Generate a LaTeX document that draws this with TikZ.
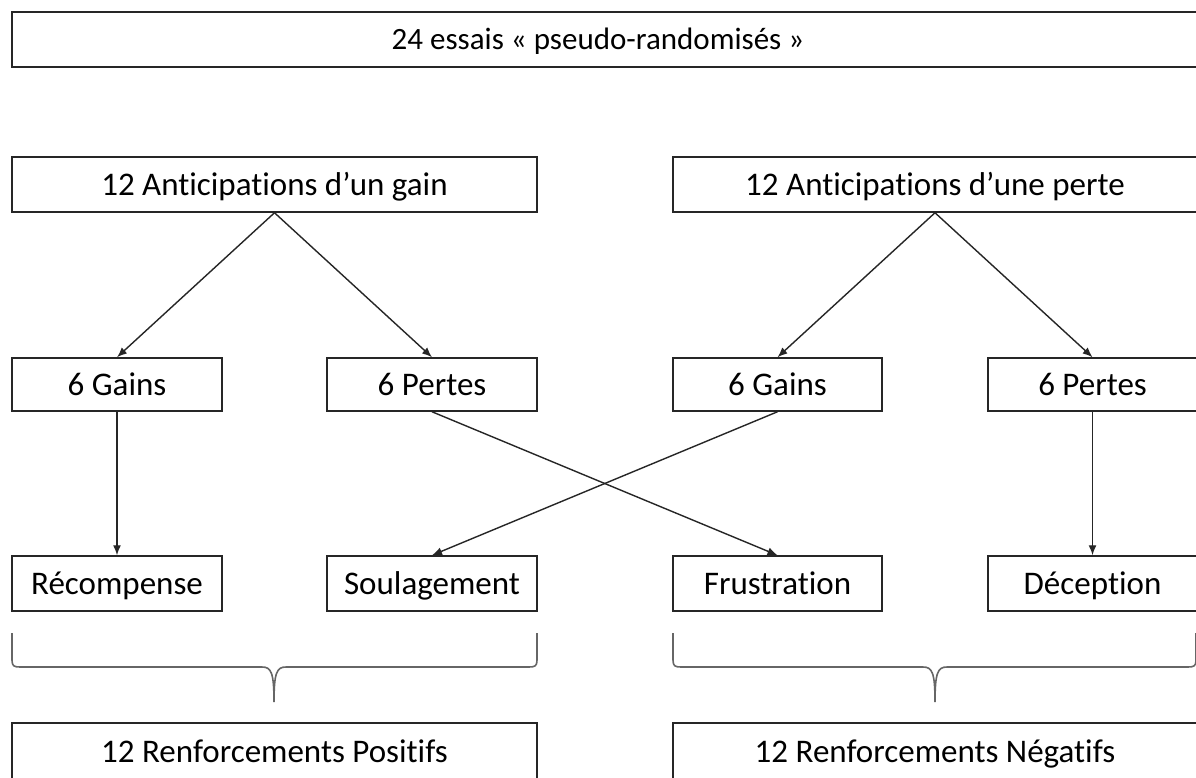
\documentclass[tikz,border=0pt]{standalone}
\usepackage{fontspec}
\setmainfont{Carlito}[Ligatures=NoCommon]
\usetikzlibrary{arrows.meta}
\begin{document}
\begin{tikzpicture}[x=1pt,y=-1pt,
  box/.style={draw=black!85, line width=1.5pt, inner sep=0pt, font=\fontsize{33}{38}\selectfont, text=black, text height=21pt, text depth=0pt},
  arr/.style={draw=black!85, line width=1.4pt, -{Latex[length=10pt,width=8pt]}},
  brace/.style={draw=black!60, line width=1.6pt}]
\clip (0,0) rectangle (1196,777);
\fill[white] (0,0) rectangle (1196,777);
% top
\node[box, minimum width=1185, minimum height=55] (top) at (604.5,39.5) {};
\node[font=\fontsize{31}{36}\selectfont, inner sep=0pt, text height=20pt, text depth=0pt] (toptext) at (598,39.5) {24 essais « pseudo-randomisés »};
% row 1
\node[box, minimum width=525, minimum height=55] (antg) at (274.5,184.5) {12 Anticipations d’un gain};
\node[box, minimum width=524, minimum height=55] (antp) at (935,184.5) {12 Anticipations d’une perte};
% row 2
\node[box, minimum width=210, minimum height=53] (g1) at (117,384.5) {6 Gains};
\node[box, minimum width=210, minimum height=53] (p1) at (432,384.5) {6 Pertes};
\node[box, minimum width=209, minimum height=53] (g2) at (777.5,384.5) {6 Gains};
\node[box, minimum width=209, minimum height=53] (p2) at (1092.5,384.5) {6 Pertes};
% row 3
\node[box, minimum width=210, minimum height=55] (rec) at (117,583.5) {Récompense};
\node[box, minimum width=210, minimum height=55] (sou) at (432,583.5) {Soulagement};
\node[box, minimum width=209, minimum height=55] (fru) at (777.5,583.5) {Frustration};
\node[box, minimum width=209, minimum height=55] (dec) at (1092.5,583.5) {Déception};
% bottom
\node[box, minimum width=525, minimum height=58] (rp) at (274.5,752) {12 Renforcements Positifs};
\node[box, minimum width=524, minimum height=58] (rn) at (935,752) {12 Renforcements Négatifs};
% arrows
\draw[arr] (antg.south) -- (g1.north);
\draw[arr] (antg.south) -- (p1.north);
\draw[arr] (antp.south) -- (g2.north);
\draw[arr] (antp.south) -- (p2.north);
\draw[arr] (g1.south) -- (rec.north);
\draw[arr] (p1.south) -- (fru.north);
\draw[arr] (g2.south) -- (sou.north);
\draw[arr] (p2.south) -- (dec.north);
% braces
\draw[brace] (12,633) -- (12,660) .. controls (12,666) and (14,667) .. (20,667) -- (262,667)
  .. controls (271,667) and (274,672) .. (274,702)
  .. controls (274,672) and (277,667) .. (286,667) -- (529,667)
  .. controls (535,667) and (537,666) .. (537,660) -- (537,633);
\draw[brace] (673,633) -- (673,660) .. controls (673,666) and (675,667) .. (681,667) -- (923,667)
  .. controls (932,667) and (935,672) .. (935,702)
  .. controls (935,672) and (938,667) .. (947,667) -- (1188,667)
  .. controls (1194,667) and (1196,666) .. (1196,660) -- (1196,633);
\end{tikzpicture}
\end{document}
